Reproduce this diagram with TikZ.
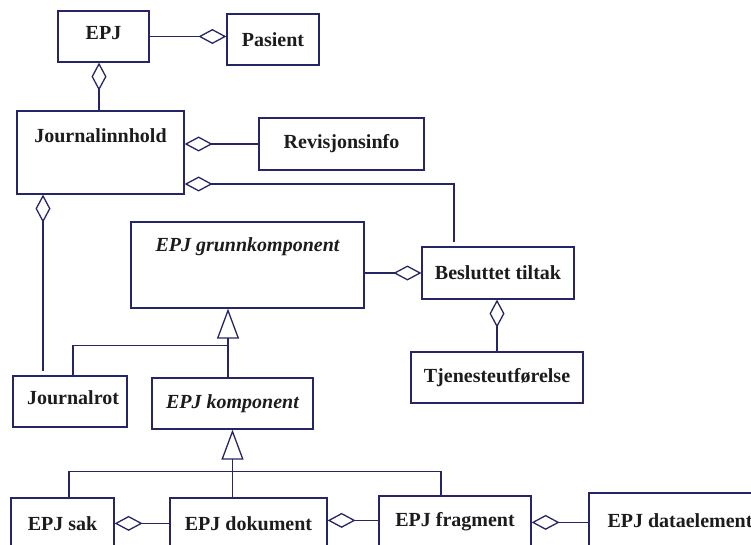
\documentclass[tikz,border=0pt]{standalone}
\usepackage{fontspec}
\setmainfont{Liberation Serif}
\usetikzlibrary{arrows.meta}
\definecolor{umlline}{RGB}{38,38,102}
\definecolor{umltext}{RGB}{28,28,28}
\begin{document}
\begin{tikzpicture}[x=1pt,y=-1pt,
  umlbox/.style={draw=umlline, line width=1.2pt, inner sep=0pt,
    minimum width=#1, text=umltext,
    font=\fontsize{20}{22}\selectfont\bfseries},
  umlbox/.default=100pt,
  conn/.style={draw=umlline, line width=1.3pt},
  agg/.style={conn, -{Diamond[open, length=28pt, width=15pt, line width=1.3pt]}},
  gen/.style={conn, -{Triangle[open, length=30pt, width=22pt, line width=1.3pt]}},
  toptext/.style={text=umltext, font=\fontsize{20}{22}\selectfont\bfseries}
]
\useasboundingbox (0,0) rectangle (751,545);
\clip (0,0) rectangle (751,545);

% classes
\node[umlbox=91pt, minimum height=51pt, text depth=7pt] (epj) at (103.5,36.5) {EPJ};
\node[umlbox=92pt, minimum height=51pt] (pas) at (273,39.5) {Pasient};
\node[umlbox=167pt, minimum height=83pt,
      label={[toptext, anchor=north, yshift=-15pt]north:Journalinnhold}] (jinn) at (100.5,152.5) {};
\node[umlbox=165pt, minimum height=52pt] (rev) at (341.5,144) {Revisjonsinfo};
\node[umlbox=233pt, minimum height=86pt,
      label={[toptext, anchor=north, yshift=-13pt]north:\itshape EPJ grunnkomponent}] (grunn) at (247.5,265) {};
\node[umlbox=152pt, minimum height=52pt] (bes) at (498,273) {Besluttet tiltak};
\node[umlbox=172pt, minimum height=51pt] (tjen) at (497,377.5) {Tjenesteutførelse};
\node[umlbox=114pt, minimum height=51pt, text depth=8pt] (jrot) at (70,401.5) {\hspace*{6pt}Journalrot};
\node[umlbox=161pt, minimum height=51pt, font=\fontsize{20}{22}\selectfont\bfseries\itshape] (komp) at (232.5,403.5) {EPJ komponent};
\node[umlbox=103pt, minimum height=52pt] (sak) at (62.5,524) {EPJ sak};
\node[umlbox=157pt, minimum height=52pt] (dok) at (248.5,524) {EPJ dokument};
\node[umlbox=152pt, minimum height=52pt] (frag) at (455,522) {EPJ fragment};
\node[umlbox=182pt, minimum height=56pt] (dat) at (680,521) {EPJ dataelement};

% aggregations
\draw[agg] (epj.east) -- (epj.east -| pas.west);
\draw[agg] ([xshift=-4.5pt]epj.south |- jinn.north) -- ([xshift=-4.5pt]epj.south);
\draw[agg] (rev.west) -- (rev.west -| jinn.east);
\draw[agg] ([xshift=-44pt, yshift=4pt]bes.north) |- ([yshift=-31.5pt]jinn.east);
\draw[agg] (grunn.east |- bes.west) -- (bes.west);
\draw[agg] (tjen.north) -- (tjen.north |- bes.south);
\draw[agg] ([xshift=-27pt, yshift=4pt]jrot.north) -- ([xshift=-27pt]jrot.north |- jinn.south);
\draw[agg] ([yshift=-26pt]dok.north west) -- ([yshift=-26pt]dok.north west -| sak.east);
\draw[agg] ([yshift=-25pt]frag.north west) -- ([yshift=-25pt]frag.north west -| dok.east);
\draw[agg] ([yshift=-30pt]dat.north west) -- ([yshift=-30pt]dat.north west -| frag.east);

% generalizations
\draw[gen] ([xshift=-4.5pt]komp.north) -- ([xshift=-19.5pt]grunn.south);
\draw[conn] ([xshift=3pt]jrot.north) |- ([xshift=-4.5pt, yshift=32pt]komp.north);
\draw[gen] (komp.south |- dok.north) -- (komp.south);
\draw[conn] ([xshift=6.5pt]sak.north) |- ([xshift=-14pt, yshift=24pt]frag.north)
  -- ([xshift=-14pt]frag.north);
\end{tikzpicture}
\end{document}
